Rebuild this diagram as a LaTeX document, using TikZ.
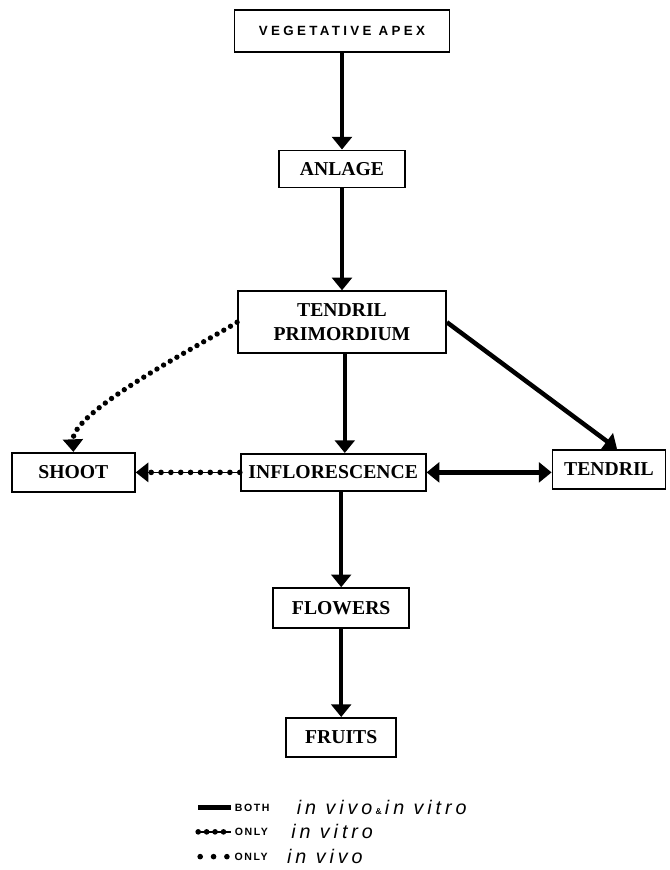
\documentclass[tikz,border=0pt]{standalone}
\usepackage{fontspec}
\setmainfont{Liberation Serif}
\setsansfont{Liberation Sans}
\usetikzlibrary{arrows.meta, positioning}

\begin{document}
\begin{tikzpicture}[
  stage/.style={rectangle, draw=black, line width=1.3pt, inner sep=2pt,
                minimum height=0.95cm, align=center,
                font=\bfseries\fontsize{14}{17}\selectfont},
  both/.style={line width=3.2pt, -{Triangle[length=9pt, width=14pt]}},
  twoway/.style={line width=3.2pt, {Triangle[length=9pt, width=14pt]}-{Triangle[length=9pt, width=14pt]}},
  vivo/.style={line width=3.8pt, line cap=round, dash pattern=on 0pt off 5.5pt,
               -{Triangle[length=9pt, width=14pt]}},
  vitro/.style={line width=1pt, -{Triangle[length=9pt, width=14pt]},
                postaction={draw, arrows=-, line width=4pt, line cap=round,
                            dash pattern=on 0pt off 7pt, shorten >=9pt}},
  keylbl/.style={font=\sffamily\bfseries\fontsize{7.5}{9}\selectfont\addfontfeature{LetterSpace=15}, inner sep=1pt},
  keytxt/.style={font=\sffamily\itshape\fontsize{14}{16}\selectfont\addfontfeature{LetterSpace=20}, inner sep=1pt}
]
  \useasboundingbox (-8.55,0.775) rectangle (8.2,-20.975);

  \node[stage, minimum width=5.375cm, minimum height=1.05cm,
        font=\sffamily\bfseries\fontsize{9.5}{11}\selectfont\addfontfeature{LetterSpace=25}] (apex) {VEGETATIVE APEX};
  \node[stage, minimum width=3.15cm, minimum height=0.925cm, below=2.415cm of apex] (anlage) {ANLAGE};
  \node[stage, minimum width=5.2cm, minimum height=1.55cm, below=2.55cm of anlage] (primordium) {TENDRIL\\PRIMORDIUM};
  \node[stage, minimum width=4.625cm, minimum height=0.925cm, below=2.47cm of primordium, xshift=-0.22cm] (infl) {INFLORESCENCE};
  \node[stage, minimum width=3.075cm, minimum height=0.975cm, left=2.6cm of infl] (shoot) {SHOOT};
  \node[stage, minimum width=2.825cm, minimum height=0.975cm, right=3.125cm of infl, yshift=0.08cm] (tendril) {TENDRIL};
  \node[stage, minimum width=3.4cm, minimum height=1.0cm, below=2.385cm of infl, xshift=0.2cm] (flowers) {FLOWERS};
  \node[stage, minimum width=2.75cm, minimum height=0.975cm, below=2.2cm of flowers] (fruits) {FRUITS};

  \draw[both] (apex) -- (anlage);
  \draw[both] (anlage) -- (primordium);
  \draw[both] ([xshift=0.07cm]primordium.south) -- ([xshift=0.07cm]primordium.south |- infl.north);
  \draw[both] (primordium.east) -- ([xshift=0.2cm]tendril.north);
  \draw[vivo] (primordium.west) to[out=212, in=92, looseness=0.5] (shoot.north);
  \draw[vitro] (infl.west) -- (shoot.east);
  \draw[twoway] (infl.east) -- (tendril.west |- infl.east);
  \draw[both] (infl.south -| flowers.north) -- (flowers.north);
  \draw[both] (flowers) -- (fruits);

  % key
  \coordinate (kboth) at ([xshift=-3.575cm, yshift=-1.25cm]fruits.south);
  \coordinate (kbothend) at ([xshift=0.825cm]kboth);
  \coordinate (kvitro) at ([yshift=-0.6cm]kboth);
  \coordinate (kvitroend) at ([xshift=0.825cm]kvitro);
  \coordinate (kvivo) at ([yshift=-1.22cm]kboth);
  \coordinate (kvivoend) at ([xshift=0.75cm]kvivo);
  \draw[line width=3.6pt] (kboth) -- (kbothend);
  \draw[line width=1pt, postaction={draw, line width=4pt, line cap=round, dash pattern=on 0pt off 6pt}] (kvitro) -- (kvitroend);
  \draw[line width=4pt, line cap=round, dash pattern=on 0pt off 9.5pt] ([xshift=0.05cm]kvivo) -- (kvivoend);
  \node[keylbl, right=0.05cm of kbothend] (lboth) {BOTH};
  \node[keylbl, right=0.05cm of kvitroend] (lvitro) {ONLY};
  \node[keylbl, right=0.12cm of kvivoend] (lvivo) {ONLY};
  \node[keytxt, right=0.6cm of lboth] (tboth) {in vivo\,{\upshape\bfseries\fontsize{6}{7}\selectfont\&}\,in vitro};
  \node[keytxt, right=0.5cm of lvitro] (tvitro) {in vitro};
  \node[keytxt, right=0.4cm of lvivo] (tvivo) {in vivo};
\end{tikzpicture}
\end{document}
